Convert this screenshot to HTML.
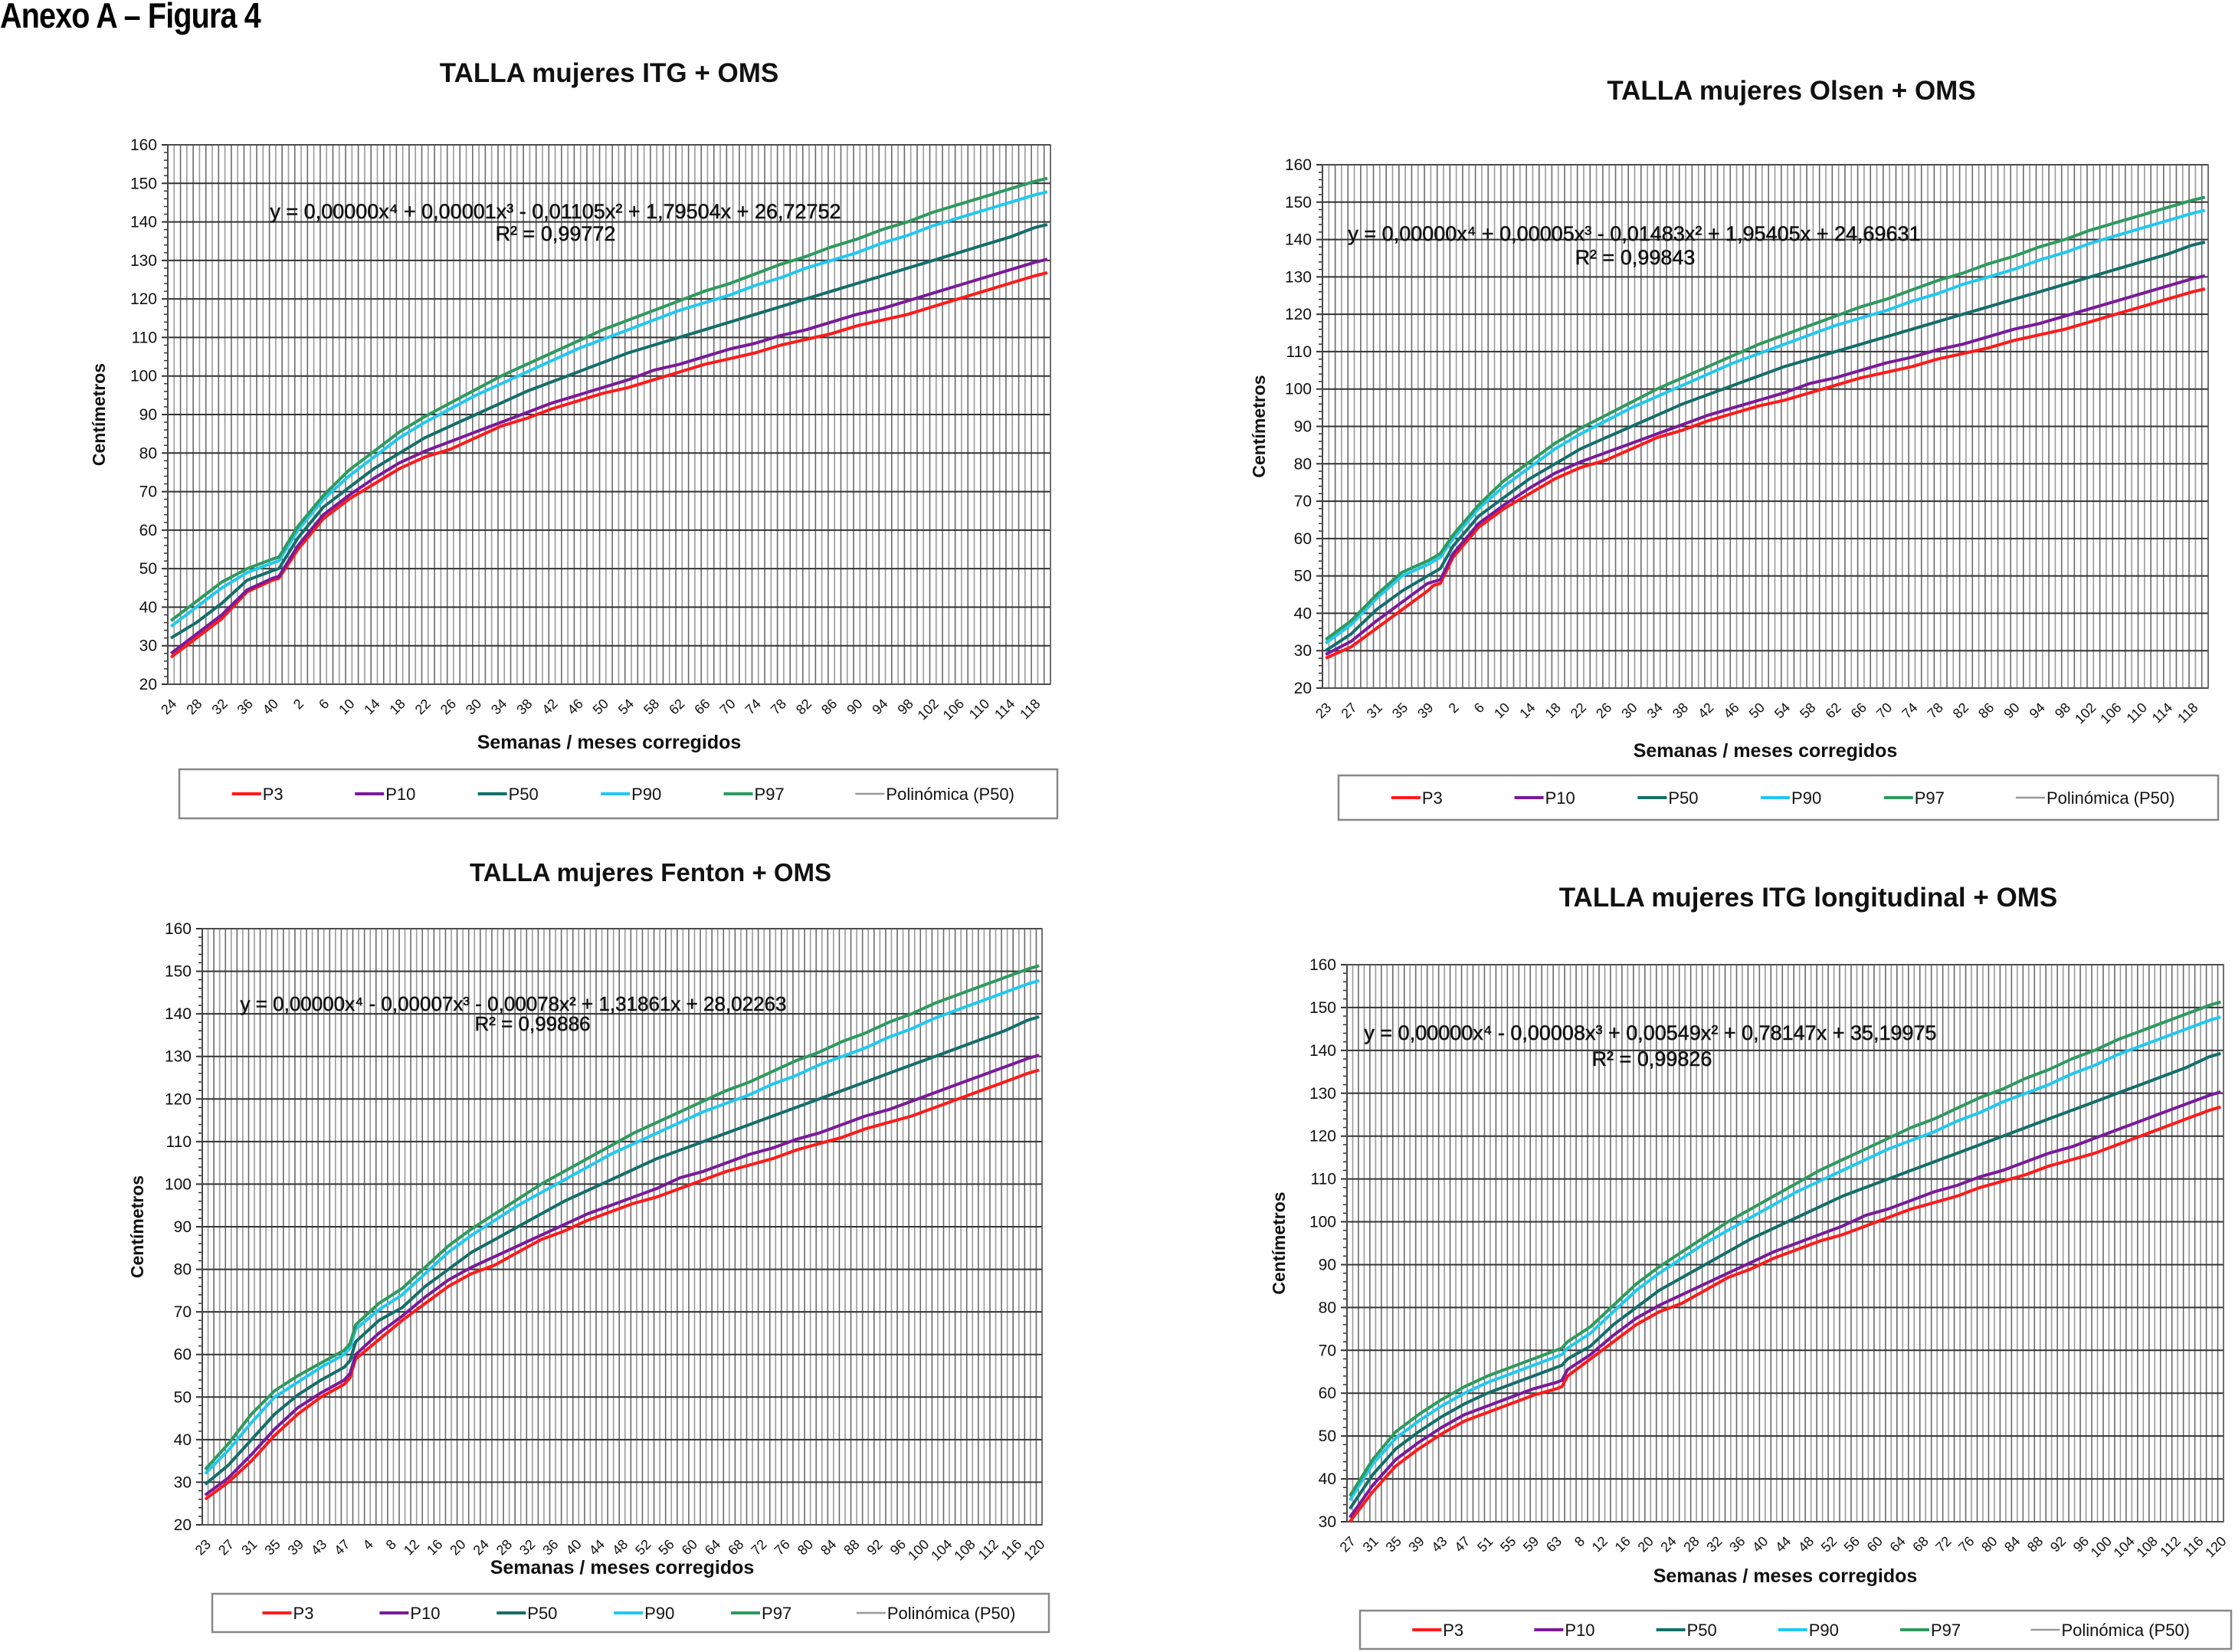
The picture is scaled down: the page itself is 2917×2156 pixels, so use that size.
<!DOCTYPE html>
<html><head><meta charset="utf-8">
<style>
html,body{margin:0;padding:0;background:#fff;}
body{width:2917px;height:2156px;position:relative;overflow:hidden;font-family:"Liberation Sans",sans-serif;}
#heading{position:absolute;left:0;top:-7px;font-size:46px;font-weight:bold;transform:scaleX(0.86);transform-origin:0 0;letter-spacing:-1px;white-space:nowrap;}
svg{position:absolute;left:0;top:0;}
</style></head>
<body>
<div id="heading">Anexo A – Figura 4</div>
<svg id="svg" width="2917" height="2156" xmlns="http://www.w3.org/2000/svg"></svg>
<script>
// ---- Shared WHO (OMS) monthly values, months 10..118 step 4 + 120 ----
const omsKeys = ['m10','m14','m18','m22','m26','m30','m34','m38','m42','m46','m50','m54','m58','m62','m66','m70','m74','m78','m82','m86','m90','m94','m98','m102','m106','m110','m114','m118','m120'];
const omsP3  = [68,72,76,79,81,84,87,89,91.5,93.5,95.5,97,99,101,103,104.5,106,108,109.5,111,113,114.5,116,118,120,122,124,126,126.8];
const omsP10 = [69,73.5,77.5,80.5,83,85.5,88,90.5,93,95,97,99,101.5,103,105,107,108.5,110.5,112,114,116,117.5,119.5,121.5,123.5,125.5,127.5,129.5,130.3];
const omsP50 = [71,76,80,84,87,90,93,96,98.5,101,103.5,106,108,110,112,114,116,118,120,122,124,126,128,130,132,134,136,138.5,139.3];
const omsP90 = [74,79,84,88,91.5,95,98,101,104,107,109.5,112,114.5,117,119,121,123.5,125.5,128,130,132,134.5,136.5,139,141,143,145,147,147.8];
const omsP97 = [75.5,80.5,85.5,89.5,93,96.5,100,103,106,109,112,114.5,117,119.5,122,124,126.5,129,131,133.5,135.5,138,140,142.5,144.5,146.5,148.5,150.5,151.3];

// ---- Chart 1: ITG ----
const c1Keys = ['w24','w28','w32','w36','w40','w41','m2','m6'];
const c1P3  = [27,32,37,44,47,47.5,55,63];
const c1P10 = [28,33,38,44.5,47.5,48,56,64];
const c1P50 = [32,36,41,47,49.5,50,58,66];
const c1P90 = [35,40,45,49,51.5,52,60,68];
const c1P97 = [36.5,41.5,46.5,50,52.5,53,61,69];
// ---- Chart 2: Olsen ----
const c2Keys = ['w23','w27','w31','w35','w39','w40','m0','m2','m6'];
const c2P3  = [28,31,36,41,46,47.5,48,55,63];
const c2P10 = [29,32.5,38,43,48,48.5,49,56,64];
const c2P50 = [30,34.5,41,46,50,51,52,58,66];
const c2P90 = [32,37,44,50,53,54,55,60,68];
const c2P97 = [33,38,45,51,54,55,56,61,69];
// ---- Chart 3: Fenton ----
const c3Keys = ['w23','w27','w31','w35','w39','w43','w47','w48','m2','m6'];
const c3P3  = [26,30,35,41,46,50,53,54.5,59,63.5];
const c3P10 = [27,31,36.5,42.5,47.5,51,54,55.5,60,65];
const c3P50 = [29.5,34,40,46,50.5,54,57,58.5,63,68];
const c3P90 = [32,37.5,44,50,53.5,57,60,61.5,66,70.5];
const c3P97 = [33,39,46,51.5,55,58,61,62.5,67,72];
// ---- Chart 4: ITG longitudinal ----
const c4Keys = ['w27','w31','w35','w39','w43','w47','w51','w55','w59','w63','w64','m6'];
const c4P3  = [30,37,43,47,50.5,53.5,55.5,57.5,59.5,61,61.5,64];
const c4P10 = [31,38.5,44.5,48.5,52,55,57,59,61,62.5,63,65.5];
const c4P50 = [33,41,47,51,54.5,57.5,60,62,64,66,66.5,68];
const c4P90 = [35,43.5,49.5,53.5,57,60,62.5,64.5,66.5,68.5,69,70.5];
const c4P97 = [36,44.5,51,55,58.5,61.5,64,66,68,70,70.5,72];

const legendLabels = ['P3','P10','P50','P90','P97','Polinómica (P50)'];
const colors = ['#ff1a1a','#7a1a9a','#146e6a','#22c8f0','#2e9a5e','#9a9a9a'];

const charts = [
 {id:'itg', title:'TALLA mujeres ITG + OMS', tfs:35, tx:795, ty:107, L:219,R:1371,T:189,B:893, ymin:20, wk:[24,41], mo:[0,120],
  keys:c1Keys, s:[c1P3,c1P10,c1P50,c1P90,c1P97], eq:'y = 0,00000x⁴ + 0,00001x³ - 0,01105x² + 1,79504x + 26,72752', r2:'R² = 0,99772', efs:27, ex:725, ey:285, rx:725, ry:314,
  ytx:137, xty:977, lg:[234,1004,1146,64]},
 {id:'olsen', title:'TALLA mujeres Olsen + OMS', tfs:35, tx:2338, ty:130, L:1726,R:2882,T:215,B:898, ymin:20, wk:[23,40], mo:[0,120],
  keys:c2Keys, s:[c2P3,c2P10,c2P50,c2P90,c2P97], eq:'y = 0,00000x⁴ + 0,00005x³ - 0,01483x² + 1,95405x + 24,69631', r2:'R² = 0,99843', efs:27, ex:2133, ey:314, rx:2134, ry:345,
  ytx:1651, xty:988, lg:[1747,1012,1148,58]},
 {id:'fenton', title:'TALLA mujeres Fenton + OMS', tfs:33, tx:849, ty:1150, L:264,R:1360,T:1212,B:1990, ymin:20, wk:[23,48], mo:[2,120],
  keys:c3Keys, s:[c3P3,c3P10,c3P50,c3P90,c3P97], eq:'y = 0,00000x⁴ - 0,00007x³ - 0,00078x² + 1,31861x + 28,02263', r2:'R² = 0,99886', efs:26, ex:670, ey:1319, rx:695, ry:1345,
  ytx:187, xty:2054, lg:[277,2080,1092,50]},
 {id:'itglong', title:'TALLA mujeres ITG longitudinal + OMS', tfs:35, tx:2360, ty:1183, L:1758,R:2902,T:1259,B:1986, ymin:30, wk:[27,64], mo:[6,120],
  keys:c4Keys, s:[c4P3,c4P10,c4P50,c4P90,c4P97], eq:'y = 0,00000x⁴ - 0,00008x³ + 0,00549x² + 0,78147x + 35,19975', r2:'R² = 0,99826', efs:27, ex:2154, ey:1357, rx:2156, ry:1391,
  ytx:1677, xty:2065, lg:[1775,2102,1137,50]}
];
const omsSeries = [omsP3,omsP10,omsP50,omsP90,omsP97];
const NS='http://www.w3.org/2000/svg';
const svg=document.getElementById('svg');
function mk(tag,attrs,parent){const e=document.createElementNS(NS,tag);for(const k in attrs)e.setAttribute(k,attrs[k]);(parent||svg).appendChild(e);return e;}

charts.forEach(c=>{
  const g=mk('g',{});
  
  
  const cats=[];
  for(let w=c.wk[0];w<=c.wk[1];w++)cats.push({k:'w'+w,l:String(w)});
  for(let m=c.mo[0];m<=c.mo[1];m++)cats.push({k:'m'+m,l:String(m)});
  const n=cats.length;
  const idx={};cats.forEach((ct,i)=>idx[ct.k]=i);
  const xs=i=>c.L+(i+0.5)*(c.R-c.L)/n;
  const ys=v=>c.B-(v-c.ymin)/(160-c.ymin)*(c.B-c.T);
  const t=mk('text',{x:c.tx,y:c.ty,'text-anchor':'middle','font-size':c.tfs,'font-weight':'bold',fill:'#111'},g);
  t.textContent=c.title;
  
  
  const grid=mk('g',{},g);
  
  
  for(let i=0;i<=n;i++){
    const x=c.L+i*(c.R-c.L)/n;
    mk('line',{x1:x,x2:x,y1:c.T,y2:c.B,stroke:i%2?'#9a9a9a':'#6a6a6a','stroke-width':1.6},grid);
  }
  for(let v=c.ymin;v<=160;v+=10){
    const y=ys(v);
    mk('line',{x1:c.L-8,x2:c.R,y1:y,y2:y,stroke:'#333','stroke-width':2},grid);
    const yl=mk('text',{x:c.L-14,y:y+7,'text-anchor':'end','font-size':21,fill:'#111'},g);
    yl.textContent=v;
    
    
  }
  for(let v=c.ymin;v<160;v+=2){const y=ys(v);mk('line',{x1:c.L-5,x2:c.L,y1:y,y2:y,stroke:'#333','stroke-width':1.5},grid);}
  mk('line',{x1:c.L,x2:c.L,y1:c.T,y2:c.B,stroke:'#222','stroke-width':2},grid);
  mk('rect',{x:c.L,y:c.T,width:c.R-c.L,height:c.B-c.T,fill:'none',stroke:'#555','stroke-width':1.5},grid);
  for(let i=0;i<n;i+=4){
    const x=xs(i),y=c.B+18;
    const xl=mk('text',{x:x,y:y,'text-anchor':'end','font-size':18,fill:'#111',transform:`rotate(-45 ${x} ${y})`,dy:12},g);
    xl.textContent=cats[i].l;
    
    
  }
  const ytl=mk('text',{x:c.ytx,y:(c.T+c.B)/2,'text-anchor':'middle','font-size':23,'font-weight':'bold',fill:'#111',transform:`rotate(-90 ${c.ytx} ${(c.T+c.B)/2})`},g);
  ytl.textContent='Centímetros';
  
  
  const xtl=mk('text',{x:(c.L+c.R)/2,y:c.xty,'text-anchor':'middle','font-size':25,'font-weight':'bold',fill:'#111'},g);
  xtl.textContent='Semanas / meses corregidos';
  
  
  const allKeys=c.keys.concat(omsKeys.filter(k=>idx[k]!==undefined));
  const seriesVals=c.s.map((arr,si)=>arr.concat(omsSeries[si].filter((_,j)=>idx[omsKeys[j]]!==undefined)));
  const pts=vals=>allKeys.map((k,j)=>xs(idx[k]).toFixed(1)+','+ys(vals[j]).toFixed(1)).join(' ');
  const poly=mk('polyline',{points:pts(seriesVals[2]),fill:'none',stroke:colors[5],'stroke-width':2},g);
  
  
  seriesVals.forEach((vals,si)=>{
    const pl=mk('polyline',{points:pts(vals),fill:'none',stroke:colors[si],'stroke-width':4,'stroke-linejoin':'round'},g);
    
    
  });
  const eq=mk('text',{x:c.ex,y:c.ey,'text-anchor':'middle','font-size':c.efs,fill:'#111',stroke:'#111','stroke-width':0.5},g);
  eq.textContent=c.eq;
  
  
  const r2=mk('text',{x:c.rx,y:c.ry,'text-anchor':'middle','font-size':c.efs,fill:'#111',stroke:'#111','stroke-width':0.5},g);
  r2.textContent=c.r2;
  
  
  const [lx,ly,lw,lh]=c.lg;
  const lgG=mk('g',{},g);
  
  
  mk('rect',{x:lx,y:ly,width:lw,height:lh,fill:'#fff',stroke:'#888','stroke-width':2.5},lgG);
  const offs=[0.06,0.2,0.34,0.48,0.62,0.77];
  legendLabels.forEach((lab,i)=>{
    const ex=lx+lw*offs[i], ey=ly+lh/2;
    const e=mk('g',{},lgG);
    
    
    mk('line',{x1:ex,x2:ex+38,y1:ey,y2:ey,stroke:colors[i],'stroke-width':i==5?2.5:4},e);
    const tt=mk('text',{x:ex+40,y:ey+8,'font-size':22,fill:'#111'},e);
    tt.textContent=lab;
  });
});
</script>
</body></html>
